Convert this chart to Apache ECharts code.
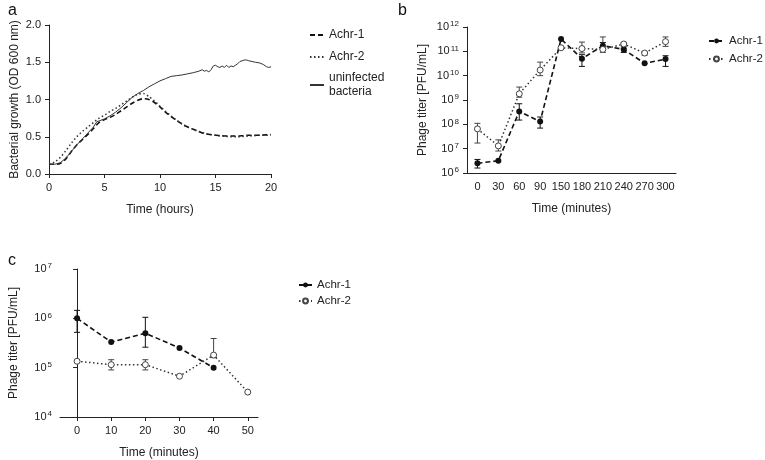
<!DOCTYPE html>
<html>
<head>
<meta charset="utf-8">
<script src="https://cdn.jsdelivr.net/npm/echarts@6/dist/echarts.min.js"></script>
<style>
html, body { margin: 0; background: #fff; }
#chart { width: 765px; height: 460px; }
</style>
</head>
<body>
<div id="chart"></div>
<script>
// ---- panel a: growth curves (OD 600) ----
var hoursA = [0,0.5,1,1.5,2,2.5,3,3.5,4,4.5,5,5.5,6,6.5,7,7.5,8,8.5,9,9.5,10,10.5,11,11.5,12,12.5,13,13.5,14,14.5,15,15.5,16,16.5,17,17.5,18,18.5,19,19.5,20];
var achr1A = [0.13,0.13,0.14,0.20,0.30,0.39,0.46,0.53,0.61,0.69,0.73,0.76,0.80,0.85,0.90,0.95,0.99,1.01,1.00,0.96,0.90,0.83,0.77,0.72,0.67,0.63,0.60,0.57,0.54,0.53,0.52,0.515,0.51,0.51,0.51,0.515,0.52,0.52,0.52,0.525,0.53];
var achr2A = [0.13,0.16,0.22,0.31,0.41,0.50,0.57,0.63,0.69,0.75,0.79,0.84,0.88,0.93,0.98,1.03,1.07,1.08,1.04,0.98,0.91,0.84,0.78,0.72,0.67,0.63,0.60,0.57,0.55,0.53,0.52,0.51,0.505,0.50,0.50,0.505,0.51,0.515,0.52,0.52,0.525];
var hoursU = [0,0.5,1,1.5,2,2.5,3,3.5,4,4.3,5,5.5,6,6.5,7,7.5,8,8.5,9,9.5,10,10.5,11,11.5,12,12.5,13,13.5,13.8,14,14.2,14.4,14.6,14.8,15,15.2,15.4,15.6,15.8,16,16.2,16.4,16.6,16.8,17,17.2,17.4,17.6,17.8,18,18.3,18.6,19,19.3,19.6,19.8,20];
var uninfA = [0.13,0.13,0.15,0.21,0.30,0.39,0.47,0.55,0.63,0.70,0.74,0.78,0.83,0.89,0.96,1.03,1.08,1.12,1.17,1.21,1.25,1.28,1.31,1.32,1.33,1.345,1.36,1.38,1.40,1.38,1.39,1.37,1.40,1.45,1.46,1.44,1.43,1.45,1.43,1.46,1.43,1.45,1.44,1.46,1.48,1.51,1.52,1.53,1.53,1.52,1.51,1.50,1.49,1.47,1.44,1.43,1.44];

// ---- panel b: phage titer over 300 min ----
var minutesB = ['0','30','60','90','150','180','210','240','270','300'];
var achr1B = [2.5e6,3.2e6,3.4e8,1.3e8,3.2e11,5e10,1.7e11,1.2e11,3.2e10,4.8e10];
var achr1BLow = [1.6e6,null,1.5e8,7e7,null,2.4e10,1.2e11,9e10,null,2.4e10];
var achr1BHigh = [3.6e6,null,7e8,2e8,null,7.3e10,2.3e11,1.35e11,null,6.6e10];
var achr2B = [6.5e7,1.3e7,1.8e9,1.7e10,1.4e11,1.3e11,1.2e11,2e11,8.5e10,2.5e11];
var achr2BLow = [1.7e7,8e6,1.3e9,1e10,null,8.6e10,9e10,1.6e11,7e10,1.6e11];
var achr2BHigh = [1.1e8,2.3e7,3.4e9,3.6e10,null,2.4e11,3.9e11,2.3e11,9.5e10,3.9e11];

// ---- panel c: phage titer over 50 min ----
var minutesC1 = [0,10,20,30,40];
var achr1C = [1e6,3.3e5,5e5,2.5e5,1e5];
var achr1CLow = [5.2e5,null,2.6e5,null,null];
var achr1CHigh = [1.45e6,null,1.05e6,null,null];
var minutesC2 = [0,10,20,30,40,50];
var achr2C = [1.35e5,1.15e5,1.15e5,6.7e4,1.8e5,3.2e4];
var achr2CLow = [null,9e4,9e4,null,1.6e5,null];
var achr2CHigh = [null,1.45e5,1.45e5,null,3.9e5,null];

var legendNames = { a1: 'Achr-1', a2: 'Achr-2', au: 'uninfected\nbacteria', b1: 'Achr-1', b2: 'Achr-2', c1: 'Achr-1', c2: 'Achr-2' };
var FONT = 'Liberation Sans, Arial, sans-serif';

function pairs(xs, ys) {
    return xs.map(function (x, i) { return [x, ys[i]]; });
}
// error bar rows [x, low, high], skipping points with no visible bar
function errRows(xs, lows, highs) {
    var out = [];
    for (var i = 0; i < xs.length; i++) {
        if (lows[i] != null) out.push([xs[i], lows[i], highs[i]]);
    }
    return out;
}
function errRender(color) {
    return function (params, api) {
        var lo = api.coord([api.value(0), api.value(1)]);
        var hi = api.coord([api.value(0), api.value(2)]);
        var w = 3;
        var st = { stroke: color, lineWidth: 1 };
        return {
            type: 'group',
            children: [
                { type: 'line', shape: { x1: hi[0], y1: hi[1], x2: lo[0], y2: lo[1] }, style: st },
                { type: 'line', shape: { x1: hi[0] - w, y1: hi[1], x2: hi[0] + w, y2: hi[1] }, style: st },
                { type: 'line', shape: { x1: lo[0] - w, y1: lo[1], x2: lo[0] + w, y2: lo[1] }, style: st }
            ]
        };
    };
}
function powLabel(v) {
    return '{b|10}{s|' + Math.round(Math.log10(v)) + '}';
}

var axisLine = { lineStyle: { color: '#222', width: 1 } };
var axisTick = { length: 4, lineStyle: { color: '#222' } };
var labelStyle = { color: '#222', fontSize: 11, fontFamily: FONT };
var nameStyle = { color: '#222', fontSize: 12, fontFamily: FONT };
var powRich = {
    b: { fontSize: 11, color: '#222', fontFamily: FONT },
    s: { fontSize: 8, color: '#222', fontFamily: FONT, verticalAlign: 'bottom', padding: [0, 0, 6, 1] }
};

var dash1 = { color: '#111', width: 1.6, type: [5, 3] };
var dot2 = { color: '#333', width: 1.5, type: [1.5, 2.5] };

var myChart = echarts.init(document.getElementById('chart'));
var option = {
    backgroundColor: '#fff',
    animation: false,
    title: [
        { text: 'a', left: 3, top: -2, textStyle: { fontSize: 16, fontWeight: 'normal', color: '#111', fontFamily: FONT } },
        { text: 'b', left: 393, top: -2, textStyle: { fontSize: 16, fontWeight: 'normal', color: '#111', fontFamily: FONT } },
        { text: 'c', left: 3, top: 248, textStyle: { fontSize: 16, fontWeight: 'normal', color: '#111', fontFamily: FONT } }
    ],
    legend: [
        {
            left: 309, top: 28, padding: 0, orient: 'vertical', itemWidth: 14, itemHeight: 14, itemGap: 8,
            itemStyle: { opacity: 0 },
            textStyle: { fontSize: 12, color: '#222', fontFamily: FONT, lineHeight: 14 },
            formatter: function (n) { return legendNames[n]; },
            data: ['a1', 'a2', { name: 'au', textStyle: { verticalAlign: 'top', padding: [-7, 0, 0, 0] } }]
        },
        {
            left: 708, top: 35, padding: 0, orient: 'vertical', itemWidth: 15, itemHeight: 6, itemGap: 6,
            textStyle: { fontSize: 11.5, color: '#222', fontFamily: FONT },
            formatter: function (n) { return legendNames[n]; },
            data: ['b1', 'b2']
        },
        {
            left: 298, top: 279, padding: 0, orient: 'vertical', itemWidth: 13, itemHeight: 6, itemGap: 4,
            textStyle: { fontSize: 11.5, color: '#222', fontFamily: FONT },
            formatter: function (n) { return legendNames[n]; },
            data: ['c1', 'c2']
        }
    ],
    grid: [
        { left: 49, top: 25, width: 222, height: 149 },
        { left: 467, top: 27, width: 209, height: 146 },
        { left: 60, top: 269, width: 198, height: 148 }
    ],
    xAxis: [
        {
            gridIndex: 0, type: 'value', min: 0, max: 20, interval: 5,
            name: 'Time (hours)', nameLocation: 'middle', nameGap: 30, nameTextStyle: nameStyle,
            axisLine: axisLine, axisTick: axisTick, axisLabel: labelStyle, splitLine: { show: false }
        },
        {
            gridIndex: 1, type: 'category', data: minutesB, boundaryGap: true,
            name: 'Time (minutes)', nameLocation: 'middle', nameGap: 30, nameTextStyle: nameStyle,
            axisLine: axisLine, axisTick: { length: 4, alignWithLabel: true, interval: 0, lineStyle: { color: '#222' } },
            axisLabel: Object.assign({ interval: 0 }, labelStyle)
        },
        {
            gridIndex: 2, type: 'value', min: -5, max: 53,
            name: 'Time (minutes)', nameLocation: 'middle', nameGap: 30, nameTextStyle: nameStyle,
            axisLine: axisLine,
            axisTick: { length: 4, lineStyle: { color: '#222' }, customValues: [0, 10, 20, 30, 40, 50] },
            axisLabel: Object.assign({ customValues: [0, 10, 20, 30, 40, 50] }, labelStyle),
            splitLine: { show: false }
        }
    ],
    yAxis: [
        {
            gridIndex: 0, type: 'value', min: 0, max: 2, interval: 0.5,
            name: 'Bacterial growth (OD 600 nm)', nameLocation: 'middle', nameGap: 28, nameTextStyle: nameStyle,
            axisLine: Object.assign({ show: true }, axisLine), axisTick: Object.assign({ show: true }, axisTick),
            axisLabel: Object.assign({ formatter: function (v) { return v.toFixed(1); } }, labelStyle),
            splitLine: { show: false }
        },
        {
            gridIndex: 1, type: 'log', logBase: 10, min: 1e6, max: 1e12, splitNumber: 6,
            name: 'Phage titer [PFU/mL]', nameLocation: 'middle', nameGap: 38, nameTextStyle: nameStyle,
            axisLine: Object.assign({ show: true }, axisLine), axisTick: Object.assign({ show: true }, axisTick),
            axisLabel: { formatter: powLabel, rich: powRich },
            splitLine: { show: false }, minorTick: { show: false }
        },
        {
            gridIndex: 2, type: 'log', logBase: 10, min: 1e4, max: 1e7, splitNumber: 3,
            name: 'Phage titer [PFU/mL]', nameLocation: 'middle', nameGap: 40, nameTextStyle: nameStyle,
            axisLine: Object.assign({ show: true }, axisLine), axisTick: Object.assign({ show: true }, axisTick),
            axisLabel: { formatter: powLabel, rich: powRich },
            splitLine: { show: false }
        }
    ],
    series: [
        { name: 'a1', type: 'line', xAxisIndex: 0, yAxisIndex: 0, data: pairs(hoursA, achr1A), showSymbol: false, symbol: 'none', smooth: 0.3, lineStyle: dash1, itemStyle: { color: '#111' } },
        { name: 'a2', type: 'line', xAxisIndex: 0, yAxisIndex: 0, data: pairs(hoursA, achr2A), showSymbol: false, symbol: 'none', smooth: 0.3, lineStyle: dot2, itemStyle: { color: '#333' } },
        { name: 'au', type: 'line', xAxisIndex: 0, yAxisIndex: 0, data: pairs(hoursU, uninfA), showSymbol: false, symbol: 'none', lineStyle: { color: '#333', width: 1 }, itemStyle: { color: '#333' } },

        { name: 'b1', type: 'line', xAxisIndex: 1, yAxisIndex: 1, data: achr1B, symbol: 'circle', symbolSize: 6, lineStyle: dash1, itemStyle: { color: '#111' }, z: 4 },
        { name: 'b2', type: 'line', xAxisIndex: 1, yAxisIndex: 1, data: achr2B, symbol: 'circle', symbolSize: 6, lineStyle: dot2, itemStyle: { color: '#fff', borderColor: '#444', borderWidth: 1 }, z: 5 },
        { type: 'custom', xAxisIndex: 1, yAxisIndex: 1, renderItem: errRender('#111'), data: errRows(minutesB.map(function (m, i) { return i; }), achr1BLow, achr1BHigh), z: 3 },
        { type: 'custom', xAxisIndex: 1, yAxisIndex: 1, renderItem: errRender('#444'), data: errRows(minutesB.map(function (m, i) { return i; }), achr2BLow, achr2BHigh), z: 3 },

        { name: 'c1', type: 'line', xAxisIndex: 2, yAxisIndex: 2, data: pairs(minutesC1, achr1C), symbol: 'circle', symbolSize: 6, lineStyle: dash1, itemStyle: { color: '#111' }, z: 4 },
        { name: 'c2', type: 'line', xAxisIndex: 2, yAxisIndex: 2, data: pairs(minutesC2, achr2C), symbol: 'circle', symbolSize: 6, lineStyle: dot2, itemStyle: { color: '#fff', borderColor: '#444', borderWidth: 1 }, z: 5 },
        { type: 'custom', xAxisIndex: 2, yAxisIndex: 2, renderItem: errRender('#111'), data: errRows(minutesC1, achr1CLow, achr1CHigh), z: 3 },
        { type: 'custom', xAxisIndex: 2, yAxisIndex: 2, renderItem: errRender('#444'), data: errRows(minutesC2, achr2CLow, achr2CHigh), z: 3 }
    ]
};
myChart.setOption(option);
window.addEventListener('resize', function () {
    myChart.resize();
});
</script>
</body>
</html>
